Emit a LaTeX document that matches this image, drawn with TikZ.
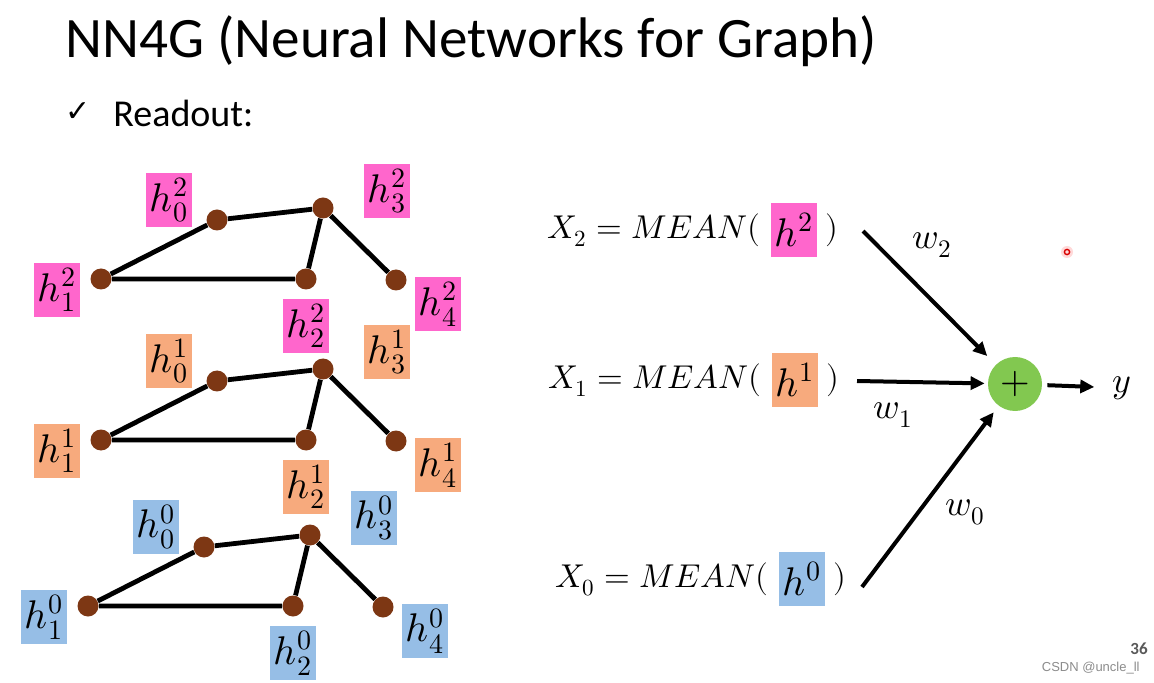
\documentclass[tikz,border=0pt]{standalone}
\usepackage{amsmath}
\usepackage{fontspec}
\usepackage{unicode-math}
\setmainfont{Carlito}
\newfontfamily\checkfont{DejaVu Sans}
\newfontfamily\markfont{Liberation Sans}
\usetikzlibrary{arrows.meta,positioning}

\definecolor{hpink}{RGB}{255,102,204}
\definecolor{horange}{RGB}{247,170,125}
\definecolor{hblue}{RGB}{150,190,230}
\definecolor{nodebrown}{RGB}{125,55,20}
\definecolor{sumgreen}{RGB}{130,200,80}

\begin{document}
\begin{tikzpicture}[x=0.5pt,y=-0.5pt,
    vertex/.style={circle,fill=nodebrown,minimum size=10.5pt,inner sep=0pt},
    edge/.style={line width=2.4pt},
    hlabel/.style={fill=#1,minimum width=23pt,minimum height=27pt,inner sep=0pt,
      font=\fontsize{20}{20}\selectfont},
    eqtext/.style={inner sep=0pt,font=\fontsize{16.5}{16.5}\selectfont},
    flow/.style={-{Triangle[length=7pt,width=6.5pt]},line width=2pt}]
  \fill[white] (0,0) rectangle (1154,683);
  \useasboundingbox (0,0) rectangle (1154,683);

  % title and bullet
  \node[anchor=base west,inner sep=0pt,font=\fontsize{28.6}{28.6}\selectfont] (title) at (65,58) {NN4G (Neural Networks for Graph)};
  \node[inner sep=0pt,font=\checkfont\fontsize{15}{15}\selectfont] (tick) at (78,112) {✓};
  \node[anchor=base west,inner sep=0pt,font=\fontsize{19}{19}\selectfont] (readout) at (113,127) {Readout:};

  % one graph per layer
  \foreach \lay/\dx/\dy/\col in {2/0/0/hpink, 1/0/161/horange, 0/-13/327/hblue} {
    \begin{scope}[shift={(\dx,\dy)}]
      \foreach \i/\bx/\by/\ox/\oy in {0/217/220/-48/-20, 1/101/279/-44/11, 2/306/279/0/47, 3/323/208/64/-17, 4/396/280/42/24} {
        \node[vertex] (a\lay\i) at (\bx,\by) {};
        \node[hlabel=\col] (l\lay\i) at (\bx+\ox,\by+\oy) {$h_{\i}^{\lay}$};
      }
      \draw[edge] (a\lay1) -- (a\lay0) -- (a\lay3) -- (a\lay2) -- (a\lay1);
      \draw[edge] (a\lay3) -- (a\lay4);
    \end{scope}
  }

  % readout
  \node[hlabel=hpink] (m2) at (794,230) {$h^2$};
  \node[hlabel=horange] (m1) at (795,380) {$h^1$};
  \node[hlabel=hblue] (m0) at (802,579) {$h^0$};
  \foreach \k in {2,1,0} {
    \node[eqtext,anchor=east,left=5pt of m\k] (eq\k) {$X_{\k} = MEAN($};
    \node[eqtext,right=4pt of m\k] (p\k) {$)$};
  }

  \node[circle,fill=sumgreen,minimum size=27pt,inner sep=0pt,font=\fontsize{19}{19}\selectfont] (sum) at (1015,384) {$+$};
  \node[eqtext,font=\fontsize{18}{18}\selectfont] (y) at (1122,388) {$y$};

  \coordinate (s2) at (863,231);
  \coordinate (s1) at (857,381);
  \coordinate (s0) at (862,587);
  \draw[flow,shorten >=6pt] (s2) -- (sum);
  \draw[flow,shorten >=1.5pt] (s1) -- (sum);
  \draw[flow,shorten >=4pt] (s0) -- (sum);
  \draw[flow,shorten <=2.5pt,shorten >=9pt] (sum) -- (y);

  \node[eqtext,font=\fontsize{18}{18}\selectfont] (w2) at (932,245) {$w_2$};
  \node[eqtext,font=\fontsize{18}{18}\selectfont] (w1) at (893,415) {$w_1$};
  \node[eqtext,font=\fontsize{18}{18}\selectfont] (w0) at (965,512) {$w_0$};

  % pointer dot
  \fill[red!15] (1067,252) circle (3pt);
  \draw[red!85!black,line width=0.7pt] (1067,252) circle (1.3pt);

  % page marks
  \node[anchor=base east,inner sep=0pt,text=black!65,font=\bfseries\fontsize{8.5}{8.5}\selectfont] (page) at (1148,654) {36};
  \node[anchor=base east,inner sep=0pt,text=black!45,font=\markfont\fontsize{6.5}{6.5}\selectfont] (csdn) at (1140,671) {CSDN @uncle\_ll};
\end{tikzpicture}
\end{document}
